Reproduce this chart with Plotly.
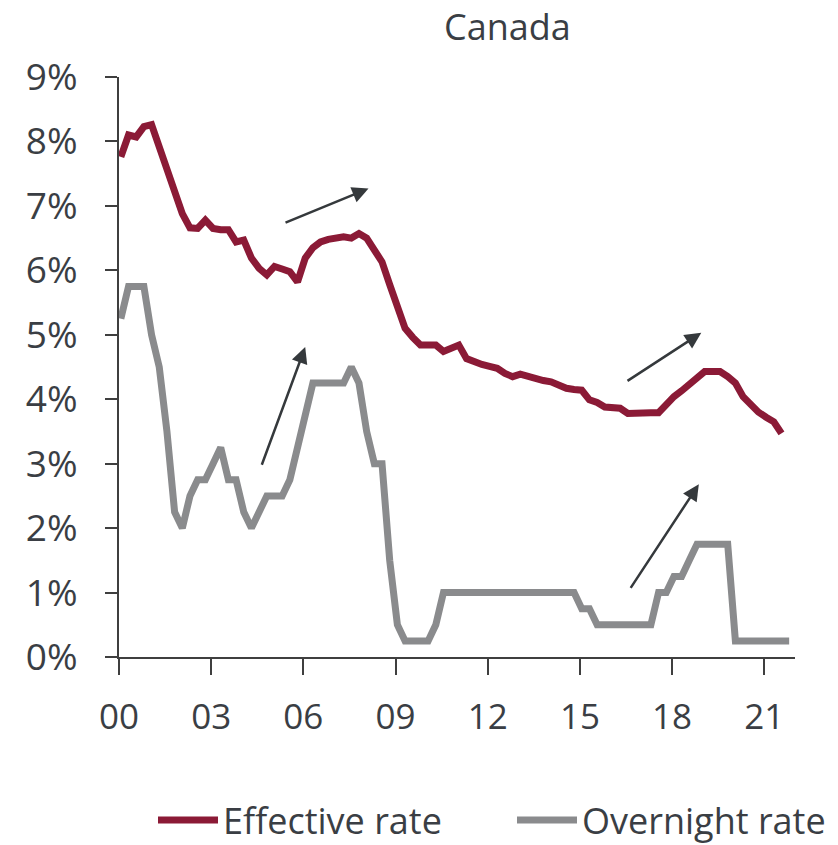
import plotly.graph_objects as go

# quarterly observations, 2000Q1 onwards
start_year = 2000.06
step = 0.25

effective_rate = [
    7.76, 8.10, 8.07, 8.23, 8.26, 7.92, 7.62, 7.25, 6.88, 6.66,
    6.65, 6.78, 6.65, 6.63, 6.63, 6.44, 6.47, 6.19, 6.03, 5.93,
    6.06, 6.02, 5.98, 5.82, 6.19, 6.35, 6.44, 6.48, 6.50, 6.52,
    6.50, 6.57, 6.50, 6.33, 6.13, 5.78, 5.42, 5.10, 4.96, 4.84,
    4.84, 4.84, 4.74, 4.80, 4.84, 4.63, 4.58, 4.54, 4.51, 4.48,
    4.40, 4.35, 4.39, 4.35, 4.32, 4.29, 4.27, 4.22, 4.17, 4.15,
    4.14, 3.99, 3.95, 3.88, 3.87, 3.86, 3.78, 3.79, 3.79, 3.79,
    3.79, 3.92, 4.04, 4.13, 4.22, 4.33, 4.43, 4.43, 4.43, 4.35,
    4.25, 4.04, 3.92, 3.80, 3.72, 3.65, 3.47,
]

overnight_rate = [
    5.25, 5.75, 5.75, 5.75, 5.00, 4.50, 3.50, 2.25, 2.00, 2.50,
    2.75, 2.75, 3.00, 3.25, 2.75, 2.75, 2.25, 2.00, 2.25, 2.50,
    2.50, 2.50, 2.75, 3.25, 3.75, 4.25, 4.25, 4.25, 4.25, 4.25,
    4.50, 4.25, 3.50, 3.00, 3.00, 1.50, 0.50, 0.25, 0.25, 0.25,
    0.25, 0.50, 1.00, 1.00, 1.00, 1.00, 1.00, 1.00, 1.00, 1.00,
    1.00, 1.00, 1.00, 1.00, 1.00, 1.00, 1.00, 1.00, 1.00, 1.00,
    0.75, 0.75, 0.50, 0.50, 0.50, 0.50, 0.50, 0.50, 0.50, 0.50,
    1.00, 1.00, 1.25, 1.25, 1.50, 1.75, 1.75, 1.75, 1.75, 1.75,
    0.25, 0.25, 0.25, 0.25, 0.25, 0.25, 0.25, 0.25,
]

tick_years = [2000, 2003, 2006, 2009, 2012, 2015, 2018, 2021]
tick_labels = ["00", "03", "06", "09", "12", "15", "18", "21"]

# trend arrows: (tail_x, tail_y, head_x, head_y)
arrows = [
    (2005.37, 6.73, 2008.12, 7.27),
    (2004.63, 2.96, 2006.06, 4.81),
    (2016.50, 4.27, 2018.95, 5.03),
    (2016.62, 1.05, 2018.87, 2.68),
]

RED = "#8b1a36"
GREY = "#8a8b8d"
TEXT = "#3a3e44"
AXIS = "#3f3f3f"
FONT = "Open Sans, Lato, sans-serif"

# the page body adds 8px around the figure, so the figure is 8px smaller
W, H = 830, 837
M_L, M_R, M_T, M_B = 111, 43, 69, 188

x_eff = [start_year + i * step for i in range(len(effective_rate))]
x_ovn = [start_year + i * step for i in range(len(overnight_rate))]

fig = go.Figure()
fig.add_trace(go.Scatter(x=x_eff, y=effective_rate, mode="lines", name="Effective rate",
                         line=dict(color=RED, width=7), legend="legend"))
fig.add_trace(go.Scatter(x=x_ovn, y=overnight_rate, mode="lines", name="Overnight rate",
                         line=dict(color=GREY, width=7), legend="legend2"))

for tx, ty, hx, hy in arrows:
    fig.add_annotation(x=hx, y=hy, ax=tx, ay=ty, xref="x", yref="y", axref="x", ayref="y",
                       text="", showarrow=True, arrowhead=2, arrowsize=1.3,
                       arrowwidth=2.5, arrowcolor="#35393c")

# chart title, placed as plain text above the plot area
plot_w = W - M_L - M_R
plot_h = H - M_T - M_B
fig.add_annotation(text="Canada", xref="paper", yref="paper",
                   x=(499 - M_L) / plot_w, y=(H - M_B - 19) / plot_h,
                   xanchor="center", yanchor="middle", showarrow=False,
                   font=dict(family=FONT, size=36, color=TEXT))

legend_style = dict(orientation="h", xref="container", xanchor="left",
                    yref="container", y=1 - 812 / H, yanchor="middle",
                    itemwidth=60, font=dict(size=36, color=TEXT), itemclick=False)

fig.update_layout(
    width=W, height=H,
    margin=dict(l=M_L, r=M_R, t=M_T, b=M_B),
    paper_bgcolor="white", plot_bgcolor="white",
    font=dict(family=FONT, size=35, color=TEXT),
    legend=dict(x=145 / W, **legend_style),
    legend2=dict(x=504 / W, **legend_style),
    showlegend=True,
)

fig.update_xaxes(range=[2000, 2022], tickvals=tick_years, ticktext=tick_labels,
                 showgrid=False, zeroline=False, showline=True, linecolor=AXIS, linewidth=2,
                 ticks="outside", ticklen=16, tickwidth=2, tickcolor=AXIS,
                 ticklabelstandoff=12)
fig.update_yaxes(range=[0, 9], dtick=1, ticksuffix="%", tickfont=dict(size=37),
                 showgrid=False, zeroline=False, showline=True, linecolor=AXIS, linewidth=2,
                 ticks="outside", ticklen=12, tickwidth=2, tickcolor=AXIS,
                 ticklabelstandoff=20)

fig.write_html("out.html")
